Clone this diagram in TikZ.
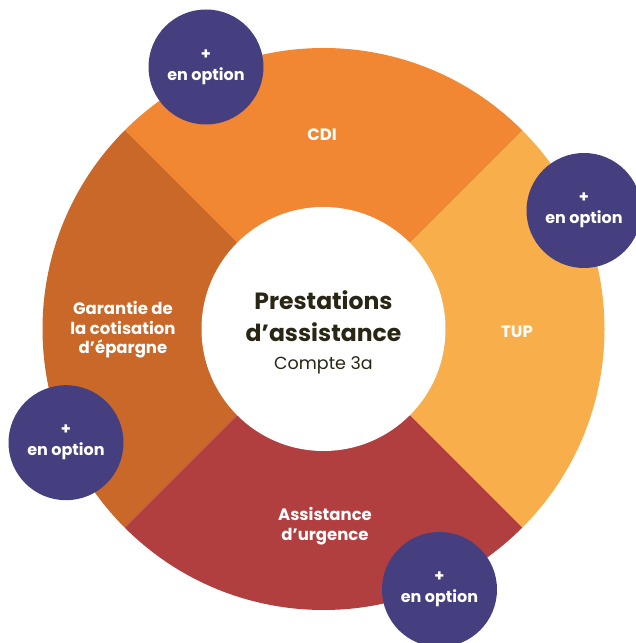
\documentclass[tikz,border=0pt]{standalone}
\usepackage{fontspec}
\setmainfont{Poppins}
\definecolor{cdi}{HTML}{F18733}
\definecolor{tup}{HTML}{F7AE4B}
\definecolor{urg}{HTML}{B13F40}
\definecolor{gar}{HTML}{C96828}
\definecolor{opt}{HTML}{453F80}
\definecolor{ink}{HTML}{2A2616}
\tikzset{
  seglabel/.style={text=white, align=center, font=\fontsize{16.5}{19.5}\selectfont\bfseries},
  optbubble/.style={circle, fill=opt, minimum size=115pt, inner sep=0pt, text=white, align=center, font=\fontsize{16}{21}\selectfont\bfseries},
}
\begin{document}
\begin{tikzpicture}[x=1pt,y=1pt]
\useasboundingbox (0,0) rectangle (636,643);
\clip (0,0) rectangle (636,643);
\coordinate (c) at (323.5,314);
% ring sectors
\fill[tup] (c) -- ++(-45:281) arc[start angle=-45, end angle=45, radius=281] -- cycle;
\fill[cdi] (c) -- ++(45:281) arc[start angle=45, end angle=135, radius=281] -- cycle;
\fill[gar] (c) -- ++(135:281) arc[start angle=135, end angle=225, radius=281] -- cycle;
\fill[urg] (c) -- ++(225:281) arc[start angle=225, end angle=315, radius=281] -- cycle;
% hub
\node[circle, fill=white, minimum size=244pt, inner sep=0pt] (hub) at (c) {};
\node[anchor=base, text=ink, font=\fontsize{23.5}{31.7}\selectfont\bfseries, align=center] (title) at (323.5,301.3) {Prestations\\d’assistance};
\node[anchor=base, text=ink, font=\fontsize{17.5}{20}\selectfont] (sub) at (323.5,273) {Compte 3a};
% segment labels
\node[seglabel] (lcdi) at (322,508) {CDI};
\node[seglabel] (ltup) at (517,311) {TUP};
\node[seglabel] (lgar) at (123,313) {Garantie de\\la cotisation\\d’épargne};
\node[seglabel] (lurg) at (325,117) {Assistance\\d’urgence};
% option bubbles
\node[optbubble] (o1) at (206,576) {+\\en option};
\node[optbubble] (o2) at (584,432.5) {+\\en option};
\node[optbubble] (o3) at (66,200.3) {+\\en option};
\node[optbubble] (o4) at (439.5,53.5) {+\\en option};
\end{tikzpicture}
\end{document}
